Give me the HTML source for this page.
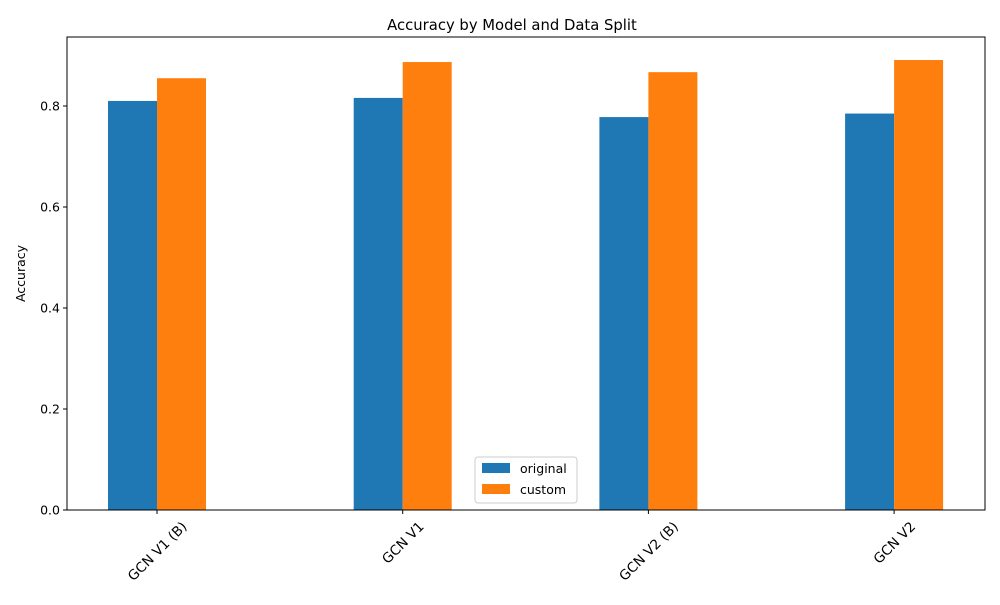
<!DOCTYPE html>
<html><head><meta charset="utf-8"><style>body{margin:0;background:#fff}svg{font-family:"DejaVu Sans","Liberation Sans",sans-serif}</style></head>
<body>
<svg id="chart" width="1000" height="600"></svg>
<script>
const categories=["GCN V1 (B)","GCN V1","GCN V2 (B)","GCN V2"];
const originalVals=[0.810,0.816,0.778,0.785];
const customVals=[0.855,0.887,0.867,0.891];
const yTicks=[0,0.2,0.4,0.6,0.8];
const seriesNames=["original","custom"];
const colors=["#1f77b4","#ff7f0e"];
const L=67,R=985,T=37,B=510,yMax=0.9366;
const ns="http://www.w3.org/2000/svg";
const svg=document.getElementById('chart');
function y(v){return B-(v/yMax)*(B-T);}
function x(i){return L+90+i*245.7;}
function mk(t,a,p){const e=document.createElementNS(ns,t);for(const k in a)e.setAttribute(k,a[k]);(p||svg).appendChild(e);return e;}
const bw=49;
[originalVals,customVals].forEach((vals,s)=>{vals.forEach((v,i)=>{
 const r=mk('rect',{x:x(i)-bw+s*bw,y:y(v),width:bw,height:B-y(v),fill:colors[s]});
 
 
});});
const ax=mk('rect',{x:L,y:T,width:R-L,height:B-T,fill:'none',stroke:'#000','stroke-width':1});


yTicks.forEach(t=>{
 mk('line',{x1:L-4,x2:L,y1:y(t),y2:y(t),stroke:'#000'});
 const tx=mk('text',{x:L-7,y:y(t)+4.5,'text-anchor':'end','font-size':12.5});tx.textContent=t.toFixed(1);
 
 
});
categories.forEach((c,i)=>{
 mk('line',{x1:x(i),x2:x(i),y1:B,y2:B+4,stroke:'#000'});
 const tx=mk('text',{x:0,y:0,'text-anchor':'middle','font-size':13.6});tx.textContent=c;
 
 
 const w=tx.getComputedTextLength(),h=13.6;
 const cy=B+9+(w+h)*0.7071/2;
 tx.setAttribute('transform',`translate(${x(i)} ${cy}) rotate(-45) translate(0 5)`);
});
const ttl=mk('text',{x:512,y:T-7,'text-anchor':'middle','font-size':14.8});ttl.textContent='Accuracy by Model and Data Split';


const yl=mk('text',{x:25,y:(T+B)/2,'text-anchor':'middle','font-size':12.5,transform:`rotate(-90 25 ${(T+B)/2})`});yl.textContent='Accuracy';


const lg=mk('g',{});


mk('rect',{x:475,y:457,width:102,height:46,rx:3,fill:'#fff',stroke:'#ccc'},lg);
seriesNames.forEach((n,s)=>{
 mk('rect',{x:482,y:463+s*21,width:28,height:10,fill:colors[s]},lg);
 const t=mk('text',{x:520,y:473+s*21,'font-size':12.5},lg);t.textContent=n;
 
 
});
</script>
</body></html>
